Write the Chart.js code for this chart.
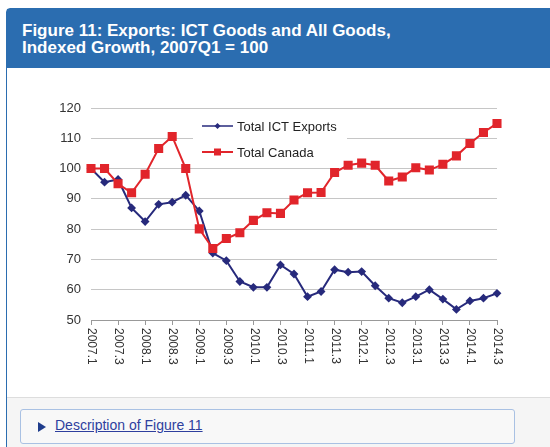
<!DOCTYPE html>
<html>
<head>
<meta charset="utf-8">
<script src="https://cdn.jsdelivr.net/npm/chart.js@4.4.1/dist/chart.umd.min.js"></script>
<style>
  html, body { margin: 0; padding: 0; background: #fff; overflow: hidden; }
  body { width: 550px; height: 447px; position: relative; font-family: Arial, "Liberation Sans", sans-serif; }
  .panel { position: absolute; left: 6px; top: 8px; width: 570px; height: 460px; border: 1px solid #2b6db0; border-radius: 4px 0 0 0; background: #fff; }
  .panel-heading { position: absolute; left: 0; top: 0; right: 0; height: 59px; background: #2b6db0; color: #fff;
    font-weight: bold; font-size: 17px; line-height: 17px; padding: 13px 0 0 15px; box-sizing: border-box; }
  #chartWrap { position: absolute; left: 0; top: 59px; width: 543px; height: 329px; }
  .panel-footer { position: absolute; left: 0; top: 388px; right: 0; bottom: 0; background: #f5f5f5; border-top: 1px solid #ddd; }
  .details { position: absolute; left: 13px; top: 11px; width: 493px; height: 33px; border: 1px solid #a9c1e3; border-radius: 3px; background: #f8f8f8; }
  .details .arrow { position: absolute; left: 17px; top: 12px; width: 0; height: 0; border-left: 8px solid #1f3d8c;
    border-top: 5px solid transparent; border-bottom: 5px solid transparent; }
  .details a { position: absolute; left: 34px; top: 7px; font-size: 14px; color: #2e3f9e; text-decoration: underline; }
</style>
</head>
<body>
<div class="panel">
  <div class="panel-heading">Figure 11: Exports: ICT Goods and All Goods,<br>Indexed Growth, 2007Q1 = 100</div>
  <div id="chartWrap"><canvas id="exportsChart" width="543" height="329"></canvas></div>
  <div class="panel-footer">
    <div class="details"><span class="arrow"></span><a href="#">Description of Figure 11</a></div>
  </div>
</div>
<script>
const quarters = [
  '2007.1', '2007.2', '2007.3', '2007.4',
  '2008.1', '2008.2', '2008.3', '2008.4',
  '2009.1', '2009.2', '2009.3', '2009.4',
  '2010.1', '2010.2', '2010.3', '2010.4',
  '2011.1', '2011.2', '2011.3', '2011.4',
  '2012.1', '2012.2', '2012.3', '2012.4',
  '2013.1', '2013.2', '2013.3', '2013.4',
  '2014.1', '2014.2', '2014.3'
];
const tickLabels = [
  '2007.1', '2007.3', '2008.1', '2008.3', '2009.1', '2009.3', '2010.1', '2010.3',
  '2011.1', '2011.3', '2012.1', '2012.3', '2013.1', '2013.3', '2014.1', '2014.3'
];
const ictExports = [
  100, 95.5, 96.4, 87, 82.5, 88.2, 88.9, 91.2,
  86, 72.1, 69.6, 62.7, 60.8, 60.8, 68.2, 65.2,
  57.7, 59.4, 66.6, 65.8, 66, 61.3, 57.2, 55.7,
  57.7, 60, 56.9, 53.5, 56.3, 57.2, 58.8
];
const totalCanada = [
  100, 100, 95, 92, 98.1, 106.6, 110.6, 100,
  80.1, 73.6, 76.9, 78.8, 82.9, 85.4, 85.2, 89.6,
  92, 92.1, 98.7, 101.1, 101.8, 101.1, 95.9, 97.2,
  100.3, 99.5, 101.4, 104.2, 108.3, 111.9, 114.9
];

const ICT_COLOR = '#272a7c';
const CANADA_COLOR = '#e1252b';

// legend sits inside the plot area, on a white box over the gridlines
const insideLegend = {
  id: 'insideLegend',
  beforeDatasetsDraw(chart) {
    const { ctx, chartArea } = chart;
    const x0 = chartArea.left + 102;
    const y0 = chartArea.top + 7;
    ctx.save();
    ctx.fillStyle = '#fff';
    ctx.fillRect(x0, y0, 154, 47);

    const rows = [
      { ds: chart.data.datasets[0], y: y0 + 11 },
      { ds: chart.data.datasets[1], y: y0 + 37 }
    ];
    rows.forEach(r => {
      const lx = x0 + 9, rx = x0 + 40, mx = (lx + rx) / 2;
      ctx.strokeStyle = r.ds.borderColor;
      ctx.lineWidth = r.ds.pointStyle === 'rect' ? 2 : 1.5;
      ctx.beginPath();
      ctx.moveTo(lx, r.y);
      ctx.lineTo(rx, r.y);
      ctx.stroke();
      ctx.fillStyle = r.ds.borderColor;
      ctx.beginPath();
      if (r.ds.pointStyle === 'rect') {
        ctx.rect(mx - 3.5, r.y - 3.5, 7, 7);
      } else {
        ctx.moveTo(mx, r.y - 3);
        ctx.lineTo(mx + 3, r.y);
        ctx.lineTo(mx, r.y + 3);
        ctx.lineTo(mx - 3, r.y);
        ctx.closePath();
      }
      ctx.fill();
      ctx.fillStyle = '#222';
      ctx.font = '13px Arial, "Liberation Sans", sans-serif';
      ctx.textAlign = 'left';
      ctx.textBaseline = 'middle';
      ctx.fillText(r.ds.label, x0 + 44, r.y + 1);
    });
    ctx.restore();
  }
};

// quarter labels run top-to-bottom under each tick
const verticalTicks = {
  id: 'verticalTicks',
  afterDraw(chart) {
    const { ctx } = chart;
    const xs = chart.scales.x;
    ctx.save();
    ctx.fillStyle = '#333';
    ctx.font = '12px Arial, "Liberation Sans", sans-serif';
    ctx.textAlign = 'left';
    ctx.textBaseline = 'middle';
    tickLabels.forEach(lbl => {
      const px = xs.getPixelForValue(quarters.indexOf(lbl));
      ctx.save();
      ctx.translate(px + 0.5, xs.top + 8);
      ctx.rotate(Math.PI / 2);
      ctx.fillText(lbl, 0, 0);
      ctx.restore();
    });
    ctx.restore();
  }
};

new Chart(document.getElementById('exportsChart'), {
  type: 'line',
  data: {
    labels: quarters,
    datasets: [
      {
        label: 'Total ICT Exports',
        data: ictExports,
        borderColor: ICT_COLOR,
        backgroundColor: ICT_COLOR,
        borderWidth: 2,
        pointStyle: 'rectRot',
        pointRadius: 3,
        tension: 0,
        order: 1
      },
      {
        label: 'Total Canada',
        data: totalCanada,
        borderColor: CANADA_COLOR,
        backgroundColor: CANADA_COLOR,
        borderWidth: 2,
        pointStyle: 'rect',
        pointRadius: 5,
        tension: 0,
        order: 0
      }
    ]
  },
  options: {
    responsive: false,
    animation: false,
    layout: { padding: { top: 40, right: 53, left: 0, bottom: 0 } },
    plugins: {
      legend: { display: false },
      tooltip: { enabled: false }
    },
    scales: {
      x: {
        type: 'category',
        offset: false,
        grid: {
          drawOnChartArea: false,
          drawTicks: true,
          tickLength: 5,
          tickColor: c => (c.index % 2 === 0 ? '#999' : 'rgba(0,0,0,0)')
        },
        border: { color: '#999', width: 1 },
        ticks: { display: false, autoSkip: false },
        afterFit: s => { s.height = 77; }
      },
      y: {
        min: 50,
        max: 120,
        ticks: {
          stepSize: 10,
          padding: 10,
          color: '#333',
          font: { family: 'Arial, "Liberation Sans", sans-serif', size: 13 }
        },
        grid: {
          drawTicks: false,
          color: c => (c.tick && c.tick.value === 50 ? 'rgba(0,0,0,0)' : '#c6c6c6')
        },
        border: { display: false },
        afterFit: s => { s.width = 84; }
      }
    }
  },
  plugins: [insideLegend, verticalTicks]
});
</script>
</body>
</html>
